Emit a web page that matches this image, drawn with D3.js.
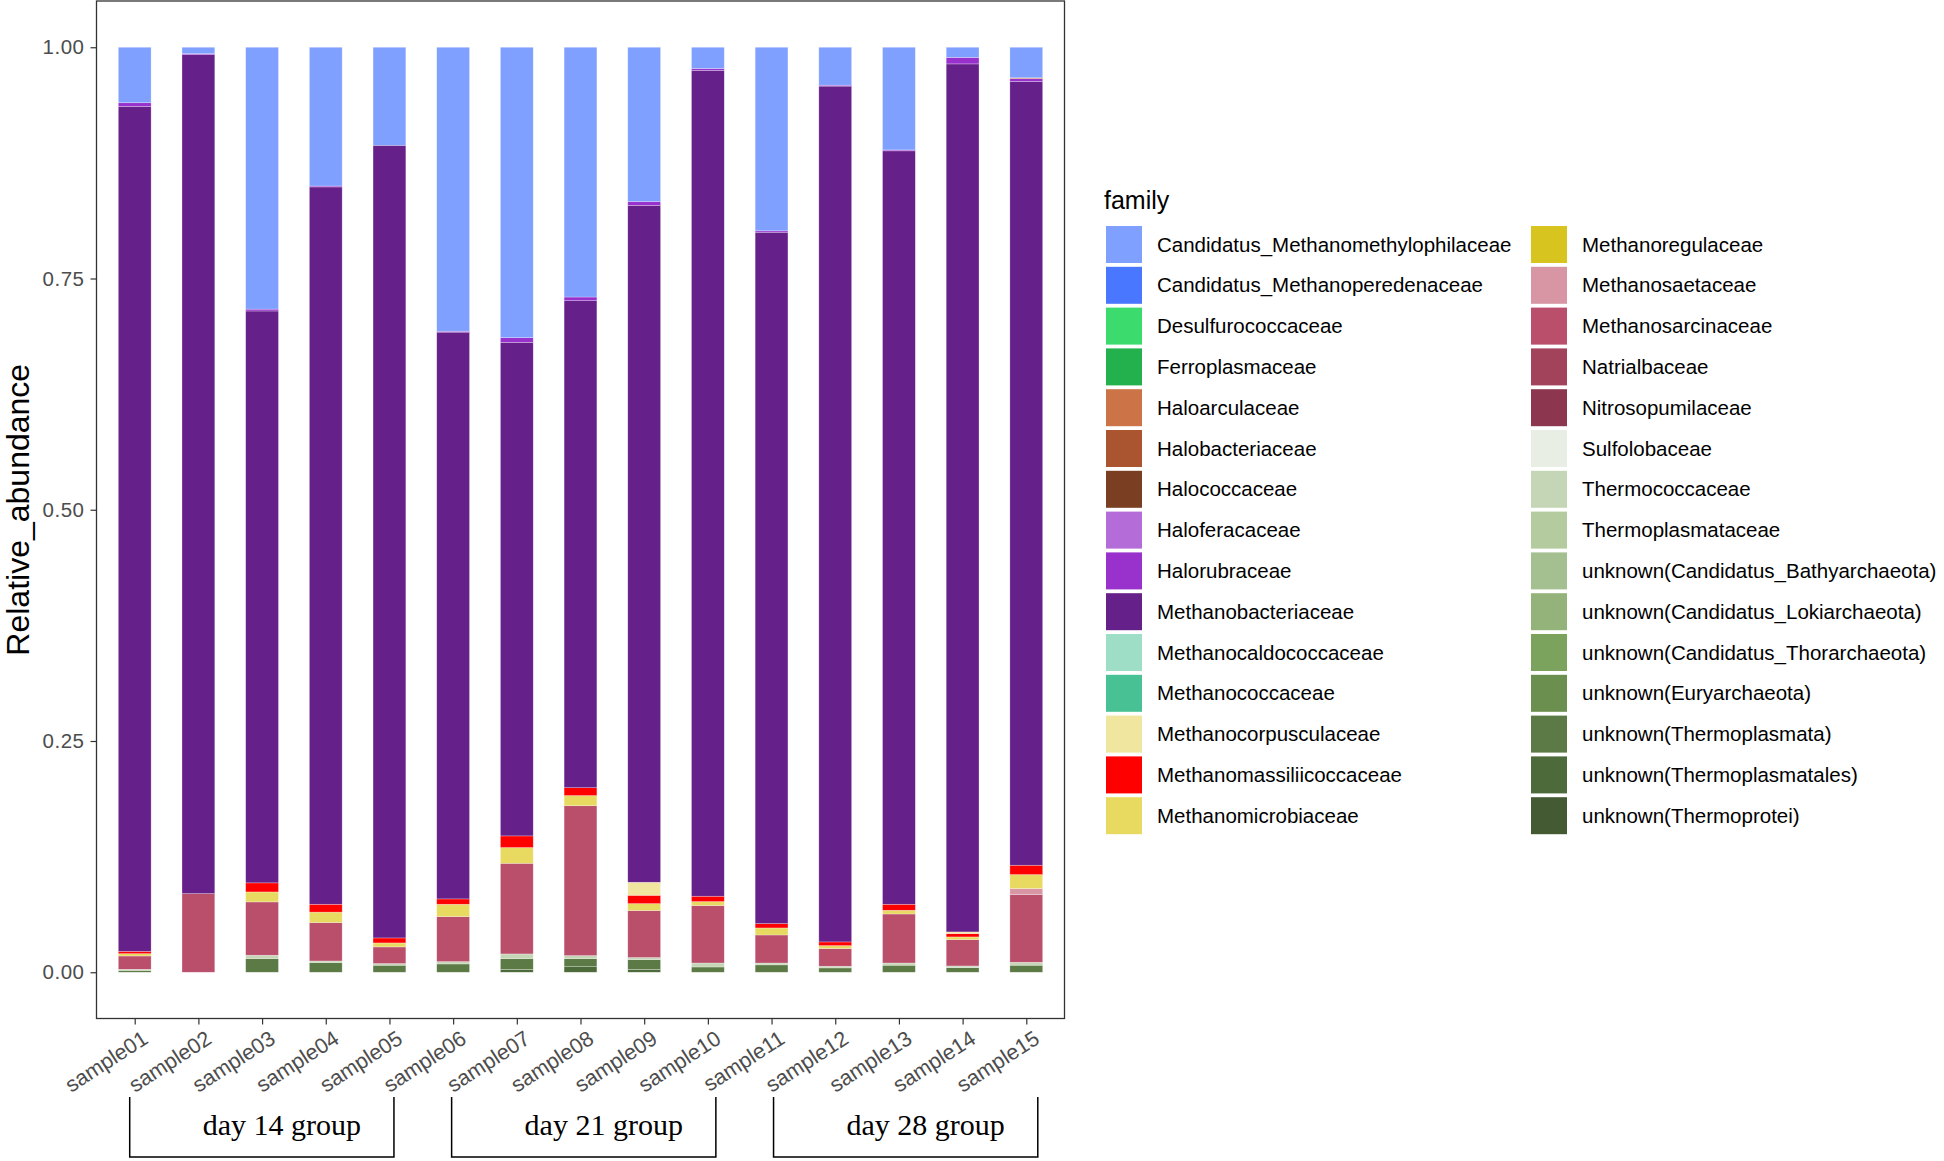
<!DOCTYPE html>
<html>
<head>
<meta charset="utf-8">
<script src="https://cdn.jsdelivr.net/npm/d3@7"></script>
<style>
  body { margin: 0; background: #fff; }
  text { font-family: "Liberation Sans", Arial, sans-serif; }
</style>
</head>
<body>
<svg width="1944" height="1161"></svg>
<script>
var samples = ["sample01", "sample02", "sample03", "sample04", "sample05",
               "sample06", "sample07", "sample08", "sample09", "sample10",
               "sample11", "sample12", "sample13", "sample14", "sample15"];

var families = [
  "Candidatus_Methanomethylophilaceae", "Candidatus_Methanoperedenaceae", "Desulfurococcaceae",
  "Ferroplasmaceae", "Haloarculaceae", "Halobacteriaceae", "Halococcaceae", "Haloferacaceae",
  "Halorubraceae", "Methanobacteriaceae", "Methanocaldococcaceae", "Methanococcaceae",
  "Methanocorpusculaceae", "Methanomassiliicoccaceae", "Methanomicrobiaceae",
  "Methanoregulaceae", "Methanosaetaceae", "Methanosarcinaceae", "Natrialbaceae",
  "Nitrosopumilaceae", "Sulfolobaceae", "Thermococcaceae", "Thermoplasmataceae",
  "unknown(Candidatus_Bathyarchaeota)", "unknown(Candidatus_Lokiarchaeota)",
  "unknown(Candidatus_Thorarchaeota)", "unknown(Euryarchaeota)", "unknown(Thermoplasmata)",
  "unknown(Thermoplasmatales)", "unknown(Thermoprotei)"];

var familyColors = [
  "#7fa0ff", "#4a77ff", "#3cdb6e", "#22b14c", "#cc7447", "#aa5530", "#7a3f22", "#b46cd8",
  "#9932cc", "#66208a", "#9eddc6", "#48c294", "#f0e6a0", "#ff0000", "#e8da60",
  "#d8c41e", "#d896a5", "#ba4f6c", "#a3425b", "#8d364f", "#e8eee4", "#c5d6b6", "#b4cba0",
  "#a4bf90", "#93b37a", "#7ba35e", "#6b8f4f", "#5b7a45", "#4c6a3a", "#435a33"];

// relative abundance per sample (sample01 .. sample15), families not listed are 0
var methanomethylophilaceae = [0.060, 0.007, 0.283, 0.150, 0.106, 0.307, 0.314, 0.270, 0.167, 0.023, 0.1985, 0.041, 0.111, 0.011, 0.033];
var haloarculaceae          = [0, 0, 0, 0, 0, 0, 0, 0, 0, 0, 0, 0, 0, 0, 0.001];
var halorubraceae           = [0.004, 0.001, 0.002, 0.001, 0, 0.001, 0.005, 0.004, 0.004, 0.002, 0.0015, 0.001, 0.001, 0.007, 0.003];
var methanobacteriaceae     = [0.9134, 0.907, 0.618, 0.7755, 0.857, 0.6127, 0.5336, 0.5265, 0.7317, 0.8928, 0.7474, 0.9252, 0.8145, 0.9384, 0.8473];
var methanocorpusculaceae   = [0, 0, 0, 0, 0, 0, 0, 0, 0.0141, 0, 0, 0, 0, 0.0018, 0];
var methanomassiliicoccaceae = [0.0025, 0, 0.0098, 0.0085, 0.0054, 0.0058, 0.0126, 0.0085, 0.009, 0.0058, 0.0047, 0.004, 0.0065, 0.0036, 0.0101];
var methanomicrobiaceae     = [0.0025, 0, 0.0108, 0.0113, 0.0043, 0.0133, 0.017, 0.011, 0.0075, 0.0043, 0.0076, 0.0032, 0.004, 0.0029, 0.0151];
var methanosaetaceae        = [0, 0, 0, 0, 0, 0, 0, 0, 0, 0, 0, 0, 0, 0, 0.0065];
var methanosarcinaceae      = [0.0144, 0.085, 0.0576, 0.0415, 0.018, 0.0487, 0.098, 0.162, 0.0508, 0.0621, 0.0303, 0.0191, 0.053, 0.0285, 0.0732];
var thermococcaceae         = [0.0012, 0, 0.0036, 0.0017, 0.0018, 0.0025, 0.005, 0.0032, 0.0022, 0.0043, 0.002, 0.0018, 0.0024, 0.0018, 0.0032];
var thermoplasmata          = [0.002, 0, 0.0148, 0.0105, 0.0076, 0.009, 0.0118, 0.0088, 0.0107, 0.0057, 0.008, 0.0047, 0.0076, 0.005, 0.0076];
var thermoplasmatales       = [0, 0, 0, 0, 0, 0, 0.003, 0.006, 0.003, 0, 0, 0, 0, 0, 0];

var groupNames = ["day 14 group", "day 21 group", "day 28 group"];
var groupFirst = ["sample01", "sample06", "sample11"];
var groupLast  = ["sample05", "sample10", "sample15"];

var yTicks = [0, 0.25, 0.5, 0.75, 1];

function main() {
    var svg = d3.select("svg");

    var seriesByFamily = {
        "Candidatus_Methanomethylophilaceae": methanomethylophilaceae,
        "Haloarculaceae": haloarculaceae,
        "Halorubraceae": halorubraceae,
        "Methanobacteriaceae": methanobacteriaceae,
        "Methanocorpusculaceae": methanocorpusculaceae,
        "Methanomassiliicoccaceae": methanomassiliicoccaceae,
        "Methanomicrobiaceae": methanomicrobiaceae,
        "Methanosaetaceae": methanosaetaceae,
        "Methanosarcinaceae": methanosarcinaceae,
        "Thermococcaceae": thermococcaceae,
        "unknown(Thermoplasmata)": thermoplasmata,
        "unknown(Thermoplasmatales)": thermoplasmatales
    };

    var rows = samples.map(function(s, i) {
        var r = { sample: s };
        families.forEach(function(f) {
            r[f] = seriesByFamily[f] ? seriesByFamily[f][i] : 0;
        });
        return r;
    });

    var panel = { left: 96.5, right: 1064.5, top: 1, bottom: 1018.5 };

    var xScale = d3.scalePoint()
        .domain(samples)
        .range([panel.left, panel.right])
        .padding(0.6);
    var barWidth = xScale.step() * 0.515;

    var yScale = d3.scaleLinear()
        .domain([-0.05, 1.05])
        .range([panel.bottom, panel.top]);

    var color = d3.scaleOrdinal().domain(families).range(familyColors);

    // ggplot stacks first level on top, so stack in reverse
    var stack = d3.stack()
        .keys(families.slice().reverse())
        .offset(d3.stackOffsetExpand);
    var layers = stack(rows);

    var bars = svg.append("g");
    bars.selectAll("g")
        .data(layers)
        .enter().append("g")
        .attr("fill", function(d) { return color(d.key); })
        .selectAll("rect")
        .data(function(d) { return d.filter(function(p) { return p[1] - p[0] > 0; }); })
        .enter().append("rect")
        .attr("x", function(d) { return xScale(d.data.sample) - barWidth / 2; })
        .attr("y", function(d) { return yScale(d[1]); })
        .attr("width", barWidth)
        .attr("height", function(d) { return yScale(d[0]) - yScale(d[1]); })
        .attr("stroke", "#ffffff")
        .attr("stroke-opacity", 0.45)
        .attr("stroke-width", 0.6);

    // panel border
    svg.append("rect")
        .attr("x", panel.left)
        .attr("y", panel.top)
        .attr("width", panel.right - panel.left)
        .attr("height", panel.bottom - panel.top)
        .attr("fill", "none")
        .attr("stroke", "#333333")
        .attr("stroke-width", 1.3);

    // y axis
    var yAxis = svg.append("g")
        .attr("transform", "translate(" + panel.left + ",0)")
        .call(d3.axisLeft(yScale).tickValues(yTicks).tickFormat(d3.format(".2f")).tickSize(6).tickPadding(6));
    yAxis.select(".domain").remove();
    yAxis.selectAll("line").attr("stroke", "#333333").attr("stroke-width", 1.2);
    yAxis.selectAll("text")
        .attr("fill", "#4d4d4d")
        .style("font-size", "20.5px")
        .style("letter-spacing", "0.5px")
        .style("font-family", "'Liberation Sans', Arial, sans-serif");

    // x axis
    var xAxis = svg.append("g")
        .attr("transform", "translate(0," + panel.bottom + ")")
        .call(d3.axisBottom(xScale).tickSize(6).tickPadding(4));
    xAxis.select(".domain").remove();
    xAxis.selectAll("line").attr("stroke", "#333333").attr("stroke-width", 1.2);
    xAxis.selectAll("text")
        .attr("fill", "#4d4d4d")
        .style("font-size", "21.5px")
        .style("font-family", "'Liberation Sans', Arial, sans-serif")
        .style("text-anchor", "end")
        .attr("y", 0)
        .attr("dy", "0.7em")
        .attr("transform", "translate(6,11) rotate(-33)");

    svg.append("text")
        .attr("transform", "translate(29," + ((panel.top + panel.bottom) / 2) + ") rotate(-90)")
        .attr("text-anchor", "middle")
        .style("font-size", "32px")
        .text("Relative_abundance");

    // group brackets (hand drawn in the original, drifting slightly right)
    var gb = svg.append("g");
    groupNames.forEach(function(name, i) {
        var x0 = xScale(groupFirst[i]) - 5 + 3.5 * i;
        var x1 = xScale(groupLast[i]) + 4.5 + 3.5 * i;
        var y0 = 1097, y1 = 1157;
        gb.append("path")
            .attr("d", "M" + x0 + "," + y0 + "V" + y1 + "H" + x1 + "V" + y0)
            .attr("fill", "none")
            .attr("stroke", "#000")
            .attr("stroke-width", 1.5);
        gb.append("text")
            .attr("x", (x0 + x1) / 2 + 20)
            .attr("y", 1135)
            .attr("text-anchor", "middle")
            .style("font-family", "'Liberation Serif', 'Times New Roman', serif")
            .style("font-size", "30px")
            .text(name);
    });

    // legend
    var legend = svg.append("g");
    legend.append("text")
        .attr("x", 1104)
        .attr("y", 209)
        .style("font-size", "25px")
        .text("family");

    var perCol = 15, rowStep = 40.8;
    var item = legend.selectAll(".item")
        .data(families)
        .enter().append("g")
        .attr("class", "item")
        .attr("transform", function(d, i) {
            var col = Math.floor(i / perCol), row = i % perCol;
            return "translate(" + (1106 + col * 425) + "," + (226 + row * rowStep) + ")";
        });
    item.append("rect")
        .attr("width", 36)
        .attr("height", 37)
        .attr("fill", function(d) { return color(d); });
    item.append("text")
        .attr("x", 51)
        .attr("y", 18.5)
        .attr("dy", "0.35em")
        .style("font-size", "20.5px")
        .text(function(d) { return d; });
}
main();
</script>
</body>
</html>
